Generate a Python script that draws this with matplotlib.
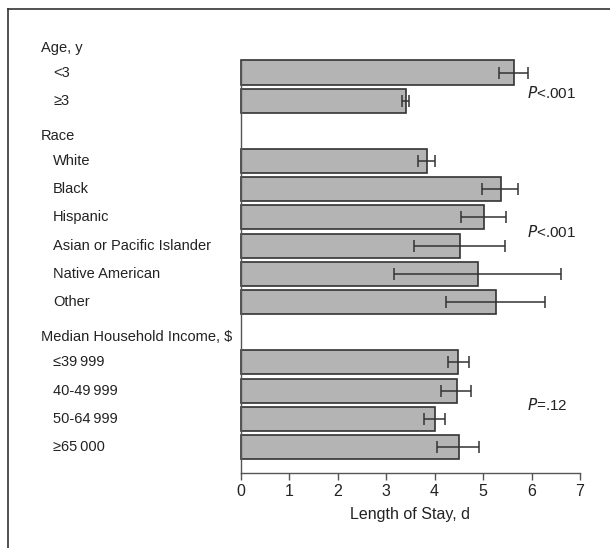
import matplotlib
matplotlib.use('Agg')
import matplotlib.pyplot as plt
import matplotlib.transforms as mtransforms
from matplotlib.lines import Line2D

plt.rcParams['font.family'] = ['Liberation Sans Narrow', 'Liberation Sans', 'DejaVu Sans']
plt.rcParams['mathtext.fontset'] = 'custom'
plt.rcParams['mathtext.it'] = 'Liberation Sans Narrow:italic'
plt.rcParams['mathtext.rm'] = 'Liberation Sans Narrow'

# data (mean length of stay and 95% CI bounds, days)
groups = ['Age, y', 'Race', 'Median Household Income, $']
categories = [
    ['<3', '\u22653'],
    ['White', 'Black', 'Hispanic', 'Asian or Pacific Islander', 'Native American', 'Other'],
    ['\u226439\u2009999', '40-49\u2009999', '50-64\u2009999', '\u226565\u2009000'],
]
means = [
    [5.63, 3.40],
    [3.85, 5.36, 5.02, 4.53, 4.90, 5.26],
    [4.49, 4.47, 4.00, 4.50],
]
ci_low = [
    [5.33, 3.33],
    [3.65, 4.98, 4.55, 3.58, 3.17, 4.23],
    [4.27, 4.14, 3.79, 4.05],
]
ci_high = [
    [5.92, 3.48],
    [4.00, 5.73, 5.48, 5.46, 6.60, 6.27],
    [4.70, 4.75, 4.21, 4.91],
]
p_values = ['<.001', '<.001', '=.12']

# layout
group_gap = 2.12
header_off = 0.88
bar_h = 0.85
txt = '#222222'

fig = plt.figure(figsize=(6.10, 5.48), dpi=100)
ax = fig.add_axes([240.7 / 610, 1 - 473 / 548, (580 - 240.7) / 610, (473 - 60.7) / 548])

to_fig = mtransforms.blended_transform_factory(fig.transFigure, ax.transData)

y = 0.0
for gi, group in enumerate(groups):
    ys = []
    for ci, cat in enumerate(categories[gi]):
        ys.append(y)
        y += 1
    y += group_gap - 1
    m = means[gi]
    lo = [m[i] - ci_low[gi][i] for i in range(len(m))]
    hi = [ci_high[gi][i] - m[i] for i in range(len(m))]
    bars = ax.barh(ys, m, height=bar_h, color='#b4b4b4', edgecolor='#333333', linewidth=1.2, zorder=2)
    for b in bars:
        b.set_clip_on(False)
    ax.errorbar(m, ys, xerr=[lo, hi], fmt='none', ecolor='#333333', elinewidth=1.1,
                capsize=4, capthick=1.1, zorder=3)
    fig.text(41 / 610, ys[0] - header_off, group, transform=to_fig, fontsize=10.5,
             va='center', ha='left', color=txt)
    for yy, cat in zip(ys, categories[gi]):
        fig.text(53 / 610, yy, cat, transform=to_fig, fontsize=10.5,
                 va='center', ha='left', color=txt)
    if gi == 0:
        py = ys[0] + 0.73
    else:
        py = (ys[0] + ys[-1]) / 2
    ax.text(5.9, py, '$P$' + p_values[gi], fontsize=11, va='center', ha='left', color=txt)

ax.set_xlim(0, 7)
ax.set_ylim(14.15, -0.417)
ax.set_xticks(range(8))
ax.set_yticks([])
ax.tick_params(axis='x', direction='out', length=5, width=1, color='#555555',
               labelsize=11.5, labelcolor=txt, pad=3)
for s in ['top', 'right']:
    ax.spines[s].set_visible(False)
ax.spines['left'].set_color('#555555')
ax.spines['bottom'].set_color('#555555')
ax.spines['left'].set_linewidth(1)
ax.spines['bottom'].set_linewidth(1)
ax.set_xlabel('Length of Stay, d', fontsize=11.5, color=txt, labelpad=6)

# frame around the figure (top and left only)
fig.add_artist(Line2D([8 / 610, 1], [1 - 9 / 548, 1 - 9 / 548], transform=fig.transFigure,
                      color='#333333', linewidth=1.2))
fig.add_artist(Line2D([8 / 610, 8 / 610], [0, 1 - 9 / 548], transform=fig.transFigure,
                      color='#333333', linewidth=1.2))

fig.savefig('out.png', dpi=100)
